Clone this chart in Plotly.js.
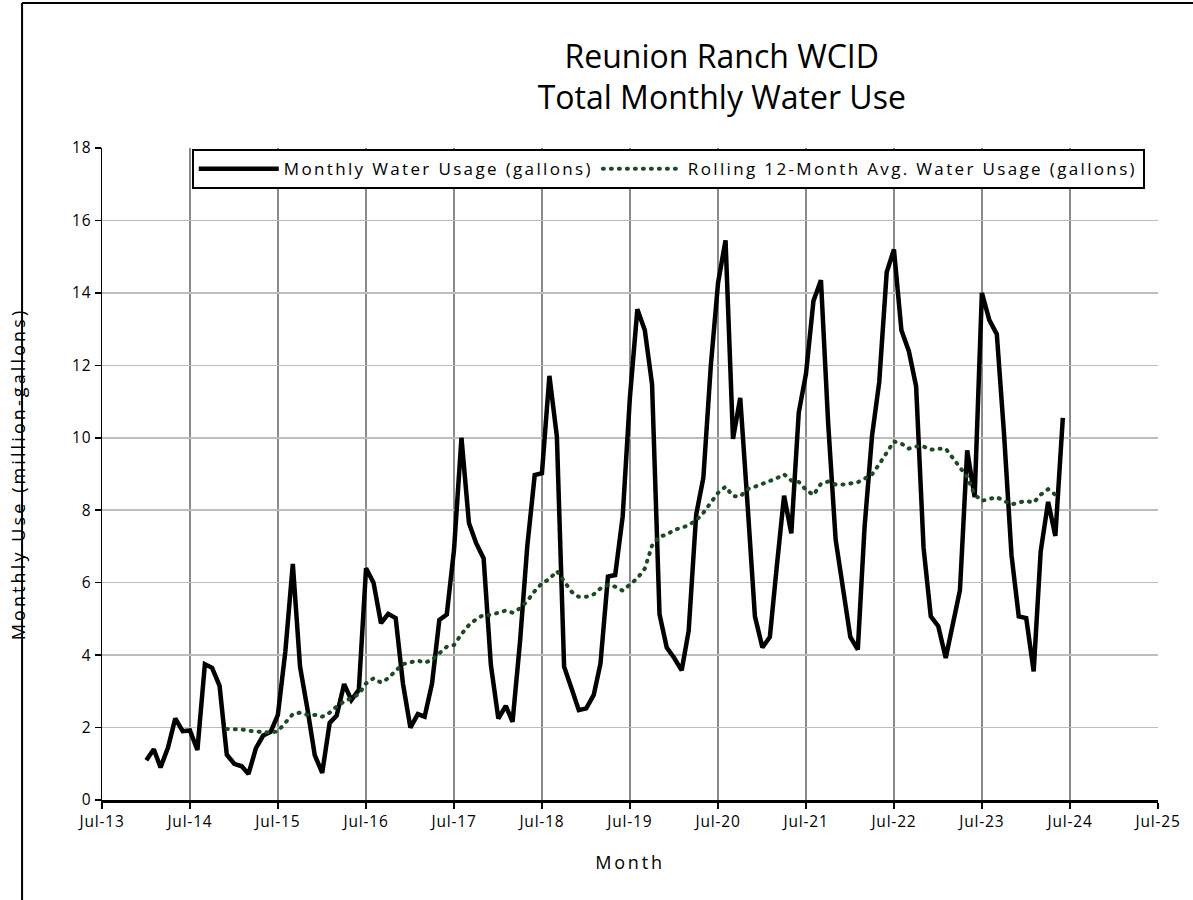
<!DOCTYPE html>
<html>
<head>
<meta charset="utf-8">
<script src="https://cdn.plot.ly/plotly-3.0.1.min.js"></script>
<style>
html,body{margin:0;padding:0;background:#fff;}
#chart{width:1193px;height:900px;}
.scatterlayer .trace:nth-child(2) .js-line, .legend .traces:nth-child(2) .js-line {stroke-linecap:round;}
text.legendtext{letter-spacing:2.35px;}
text.xtitle{letter-spacing:2.8px;}
text.ytitle{letter-spacing:3.1px;}
.xtick text, .ytick text{letter-spacing:0.8px;}
</style>
</head>
<body>
<div id="chart"></div>
<script>
// Monthly water use, million gallons, Jan-2014 .. Jun-2024
const monthlyStart = '2014-01-01';
const monthlyValues = [
  1.1, 1.4, 0.9, 1.45, 2.25, 1.9, 1.92, 1.38, 3.75, 3.65, 3.15, 1.25,
  1.0, 0.93, 0.72, 1.43, 1.78, 1.88, 2.35, 4.1, 6.52, 3.68, 2.5, 1.24,
  0.75, 2.13, 2.33, 3.2, 2.76, 3.04, 6.4, 6.0, 4.88, 5.14, 5.02, 3.22,
  2.0, 2.37, 2.3, 3.22, 4.97, 5.12, 6.9, 10.0, 7.65, 7.09, 6.67, 3.73,
  2.25, 2.6, 2.16, 4.37, 6.99, 8.97, 9.02, 11.71, 10.03, 3.68, 3.08, 2.48,
  2.53, 2.9, 3.77, 6.17, 6.21, 7.82, 11.1, 13.55, 12.97, 11.48, 5.13, 4.21,
  3.92, 3.58, 4.67, 7.87, 8.9, 11.99, 14.28, 15.45, 9.97, 11.1, 8.1, 5.07,
  4.21, 4.5, 6.4, 8.4, 7.36, 10.7, 11.77, 13.78, 14.35, 10.4, 7.19, 5.93,
  4.5, 4.15, 7.53, 10.05, 11.54, 14.57, 15.2, 12.97, 12.39, 11.42, 6.96, 5.07,
  4.8, 3.92, 4.84, 5.79, 9.65, 8.36, 14.0, 13.25, 12.86, 10.1, 6.76, 5.07,
  5.02, 3.55, 6.86, 8.23, 7.29, 10.55
];
// Rolling 12-month average, Dec-2014 .. May-2024
const rollingStart = '2014-12-01';
const rollingValues = [
  1.96,
  1.96, 1.95, 1.91, 1.9, 1.87, 1.86, 1.9, 2.13, 2.37, 2.41, 2.35, 2.35,
  2.3, 2.41, 2.58, 2.72, 2.83, 2.92, 3.22, 3.36, 3.24, 3.36, 3.57, 3.75,
  3.8, 3.85, 3.79, 3.87, 4.05, 4.23, 4.28, 4.58, 4.83, 4.99, 5.11, 5.11,
  5.17, 5.23, 5.17, 5.29, 5.49, 5.77, 5.98, 6.1, 6.32, 6.05, 5.75, 5.61,
  5.61, 5.68, 5.84, 5.94, 5.89, 5.78, 5.95, 6.12, 6.39, 7.02, 7.28, 7.32,
  7.46, 7.51, 7.59, 7.72, 7.93, 8.22, 8.48, 8.65, 8.39, 8.38, 8.58, 8.65,
  8.73, 8.79, 8.88, 8.99, 8.82, 8.78, 8.56, 8.42, 8.73, 8.79, 8.71, 8.71,
  8.75, 8.77, 8.87, 8.99, 9.27, 9.59, 9.9, 9.84, 9.7, 9.76, 9.76, 9.67,
  9.7, 9.7, 9.45, 9.15, 8.92, 8.43, 8.26, 8.31, 8.36, 8.26, 8.16, 8.21,
  8.26, 8.21, 8.43, 8.58, 8.43
];
const seriesNames = ['Monthly Water Usage (gallons)', 'Rolling 12-Month Avg. Water Usage (gallons)'];
const titleText = 'Reunion Ranch WCID<br>Total Monthly Water Use';
const xTitle = 'Month';
const yTitle = 'Monthly Use (million-gallons)';
const xRange = ['2013-07-01', '2025-07-01'];
const yTickValues = [0, 2, 4, 6, 8, 10, 12, 14, 16, 18];

function monthDates(start, n) {
  const [y, m] = start.split('-').map(Number);
  const out = [];
  for (let i = 0; i < n; i++) {
    const mm = m - 1 + i;
    const yy = y + Math.floor(mm / 12);
    const mo = (mm % 12) + 1;
    out.push(yy + '-' + String(mo).padStart(2, '0') + '-01');
  }
  return out;
}

const FONT = 'Open Sans, Noto Sans, sans-serif';

const traces = [
  {
    x: monthDates(monthlyStart, monthlyValues.length),
    y: monthlyValues,
    name: seriesNames[0],
    type: 'scatter',
    mode: 'lines',
    line: { color: '#000000', width: 4.5 }
  },
  {
    x: monthDates(rollingStart, rollingValues.length),
    y: rollingValues,
    name: seriesNames[1],
    type: 'scatter',
    mode: 'lines',
    line: { color: '#1b4a24', width: 4, dash: '1px,7px' }
  }
];

const layout = {
  width: 1193,
  height: 900,
  margin: { l: 102, r: 35, t: 148, b: 100 },
  paper_bgcolor: '#ffffff',
  plot_bgcolor: '#ffffff',
  font: { family: FONT, color: '#000000', size: 15 },
  title: {
    text: titleText,
    font: { family: FONT, size: 32, color: '#000000' },
    x: 0.605, xref: 'container', xanchor: 'center',
    y: 0.925, yref: 'container', yanchor: 'top'
  },
  showlegend: true,
  legend: {
    orientation: 'h',
    x: 0.085, xanchor: 'left',
    y: 0.998, yanchor: 'top',
    bgcolor: '#ffffff',
    bordercolor: '#000000',
    borderwidth: 2,
    font: { family: FONT, size: 17, color: '#000000' },
    itemwidth: 80,
    tracegroupgap: 0
  },
  xaxis: {
    type: 'date',
    range: xRange,
    tick0: '2013-07-01',
    dtick: 'M12',
    tickformat: '%b-%y',
    showgrid: true,
    gridcolor: '#8a8a8a',
    gridwidth: 1.5,
    showline: true,
    linecolor: '#000000',
    linewidth: 2.5,
    ticks: 'outside',
    ticklen: 6,
    tickwidth: 1.5,
    tickcolor: '#000000',
    tickfont: { family: FONT, size: 15.5, color: '#000000' },
    zeroline: false,
    title: { text: xTitle, font: { family: FONT, size: 18, color: '#000000' }, standoff: 26 }
  },
  yaxis: {
    range: [0, 18],
    tickvals: yTickValues,
    showgrid: true,
    gridcolor: '#bdbdbd',
    gridwidth: 1.5,
    showline: true,
    linecolor: '#000000',
    linewidth: 1.5,
    ticks: 'outside',
    ticklen: 6,
    tickwidth: 1.5,
    tickcolor: '#000000',
    tickfont: { family: FONT, size: 15.5, color: '#000000' },
    zeroline: false,
    title: { text: yTitle, font: { family: FONT, size: 18, color: '#000000' }, standoff: 42 }
  },
  shapes: [
    { type: 'line', xref: 'paper', yref: 'paper', x0: -0.0757, x1: 1.04, y0: 1.2224, y1: 1.2224, line: { color: '#000000', width: 2 } },
    { type: 'line', xref: 'paper', yref: 'paper', x0: -0.0757, x1: -0.0757, y0: 1.2224, y1: -0.16, line: { color: '#000000', width: 2 } }
  ]
};

Plotly.newPlot('chart', traces, layout, { displayModeBar: false, staticPlot: true });
</script>
</body>
</html>
